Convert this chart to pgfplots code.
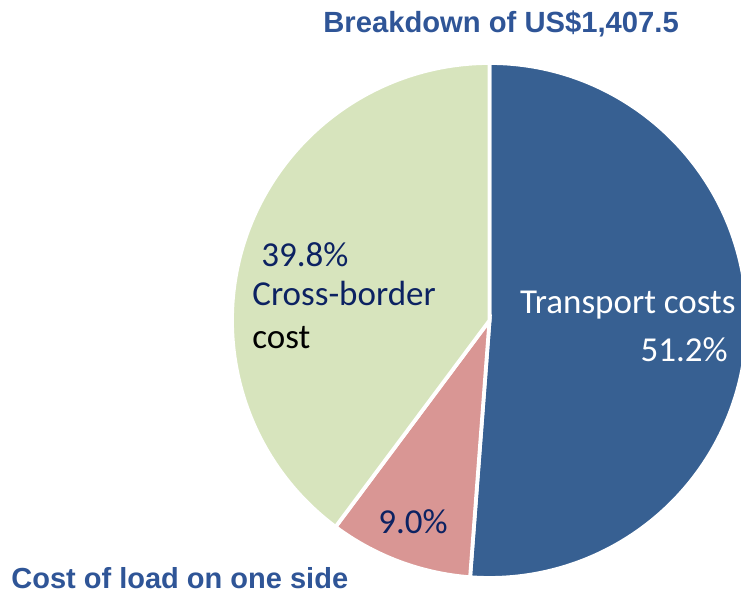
\documentclass[border=0pt]{standalone}
\usepackage{pgfplots}
\usepackage{pgfplotstable}
\pgfplotsset{compat=1.18}
\usepackage{fontspec}
\setmainfont{Carlito}
\newfontfamily\arialf{Liberation Sans}
\definecolor{pieblue}{RGB}{55,96,146}
\definecolor{piepink}{RGB}{217,150,148}
\definecolor{piegreen}{RGB}{215,228,189}
\definecolor{titleblue}{RGB}{47,85,151}
\definecolor{navy}{RGB}{12,34,98}

\pgfplotstableread{
label value
Transport 51.2
Load 9.0
Cross 39.8
}\piedata

\begin{document}
\begin{tikzpicture}
% cumulative angles from the data (clockwise from 90 degrees)
\pgfplotstablegetelem{0}{value}\of\piedata \let\va\pgfplotsretval
\pgfplotstablegetelem{1}{value}\of\piedata \let\vb\pgfplotsretval
\pgfplotstablegetelem{2}{value}\of\piedata \let\vc\pgfplotsretval
\pgfmathsetmacro{\aS}{90}
\pgfmathsetmacro{\aA}{90-3.6*\va}
\pgfmathsetmacro{\aB}{\aA-3.6*\vb}
\pgfmathsetmacro{\aC}{\aB-3.6*\vc}
\def\R{128.75pt}
\begin{axis}[
  scale only axis,
  width=370.5pt, height=299pt,
  xmin=0, xmax=741, ymin=0, ymax=598,
  hide axis,
  clip=true,
]
\coordinate (bl) at (axis cs:0,0);
\coordinate (tr) at (axis cs:741,598);
\fill[pieblue, draw=white, line width=1.9pt] (axis cs:489.5,277.5) -- +(\aS:\R) arc[start angle=\aS, end angle=\aA, radius=\R] -- cycle;
\fill[piepink, draw=white, line width=1.9pt] (axis cs:489.5,277.5) -- +(\aA:\R) arc[start angle=\aA, end angle=\aB, radius=\R] -- cycle;
\fill[piegreen, draw=white, line width=1.9pt] (axis cs:489.5,277.5) -- +(\aB:\R) arc[start angle=\aB, end angle=\aC, radius=\R] -- cycle;
\fill[white] (axis cs:0,0) rectangle (axis cs:372,51);
% titles
\node[anchor=base west, inner sep=0pt, font=\arialf\bfseries\fontsize{14.6pt}{17pt}\selectfont, text=titleblue] at (axis cs:323,565) {Breakdown of US\$1,407.5};
\node[anchor=base west, inner sep=0pt, font=\arialf\bfseries\fontsize{14.5pt}{17pt}\selectfont, text=titleblue] at (axis cs:11,9) {Cost of load on one side};
% slice labels
\node[anchor=base west, inner sep=0pt, font=\fontsize{17.5pt}{20pt}\selectfont, text=navy] at (axis cs:261,331) {39.8\%};
\node[anchor=base west, inner sep=0pt, font=\fontsize{17.5pt}{20pt}\selectfont, text=navy] at (axis cs:252,292) {Cross-border};
\node[anchor=base west, inner sep=0pt, font=\fontsize{17.5pt}{20pt}\selectfont, text=black] at (axis cs:252,249.5) {cost};
\node[anchor=base east, inner sep=0pt, font=\fontsize{17.5pt}{20pt}\selectfont, text=white] at (axis cs:736,284) {Transport costs};
\node[anchor=base east, inner sep=0pt, font=\fontsize{17.5pt}{20pt}\selectfont, text=white] at (axis cs:728,236.5) {51.2\%};
\node[anchor=base west, inner sep=0pt, font=\fontsize{17.5pt}{20pt}\selectfont, text=navy] at (axis cs:378,64) {9.0\%};
\end{axis}
\pgfresetboundingbox
\path[use as bounding box] (bl) rectangle (tr);
\end{tikzpicture}
\end{document}
